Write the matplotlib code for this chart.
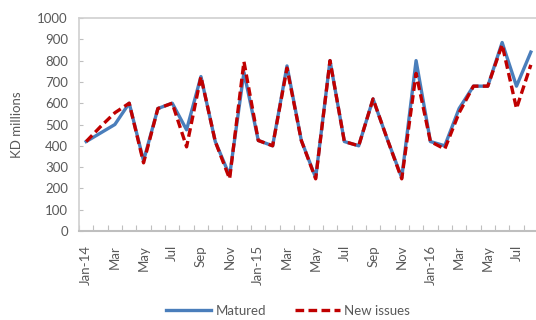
import matplotlib
matplotlib.use("Agg")
import matplotlib.pyplot as plt
from matplotlib.ticker import FixedLocator

# Monthly KD bond flows, Jan-2014 .. Aug-2016
months = ["Jan-14", "Feb", "Mar", "Apr", "May", "Jun", "Jul", "Aug", "Sep", "Oct", "Nov", "Dec",
          "Jan-15", "Feb", "Mar", "Apr", "May", "Jun", "Jul", "Aug", "Sep", "Oct", "Nov", "Dec",
          "Jan-16", "Feb", "Mar", "Apr", "May", "Jun", "Jul", "Aug"]
matured = [420, 460, 500, 600, 330, 575, 600, 475, 725, 420, 260, 745,
           425, 400, 775, 425, 250, 800, 420, 400, 620, 430, 250, 800,
           420, 400, 575, 680, 680, 885, 680, 840]
new_issues = [420, 490, 555, 600, 320, 575, 600, 395, 725, 420, 245, 795,
              425, 400, 765, 425, 245, 800, 420, 400, 620, 430, 245, 740,
              420, 385, 555, 680, 680, 875, 575, 780]
y_ticks = list(range(0, 1001, 100))

FONT = "Lato"
TXT = "#595959"
plt.rcParams["font.family"] = [FONT, "DejaVu Sans"]

fig = plt.figure(figsize=(5.36, 3.2), dpi=100)
ax = fig.add_axes([79 / 536, 89 / 320, 459 / 536, 213 / 320])

x = list(range(len(months)))
ax.plot(x, matured, color="#4A7EBB", lw=2.4, solid_joinstyle="round", label="Matured", zorder=2)
ax.plot(x, new_issues, color="#C00000", lw=2.4, linestyle=(0, (2.6, 1.3)),
        dash_capstyle="butt", dash_joinstyle="round", label="New issues", zorder=3)

ax.set_xlim(-0.5, len(months) - 0.5)
ax.set_ylim(0, 1000)

ax.set_yticks(y_ticks)
ax.set_yticklabels([str(v) for v in y_ticks])
ax.tick_params(axis="y", direction="in", length=3, width=0.8, color="#BFBFBF",
               labelsize=9.5, labelcolor=TXT, pad=8)

label_pos = x[::2]
ax.set_xticks(label_pos)
ax.set_xticklabels([months[i] for i in label_pos], rotation=90)
ax.tick_params(axis="x", which="major", length=0, labelsize=9.5, labelcolor=TXT, pad=10)
ax.xaxis.set_minor_locator(FixedLocator([i - 0.5 for i in range(len(months) + 1)]))
ax.tick_params(axis="x", which="minor", direction="in", length=4, width=0.8, color="#BFBFBF")

for side in ["left", "top", "right"]:
    ax.spines[side].set_color("#D0D0D0")
    ax.spines[side].set_linewidth(1.2)
ax.spines["bottom"].set_color("#BFBFBF")
ax.spines["bottom"].set_linewidth(1.5)

ax.set_ylabel("KD millions", fontsize=9.5, color=TXT, labelpad=10)

fig.legend(loc="lower center", bbox_to_anchor=(288 / 536, -0.028), ncol=2, frameon=False,
           fontsize=9.5, labelcolor=TXT, handlelength=3.4, handletextpad=0.3,
           columnspacing=2.2)

fig.savefig("out.png", dpi=100)
